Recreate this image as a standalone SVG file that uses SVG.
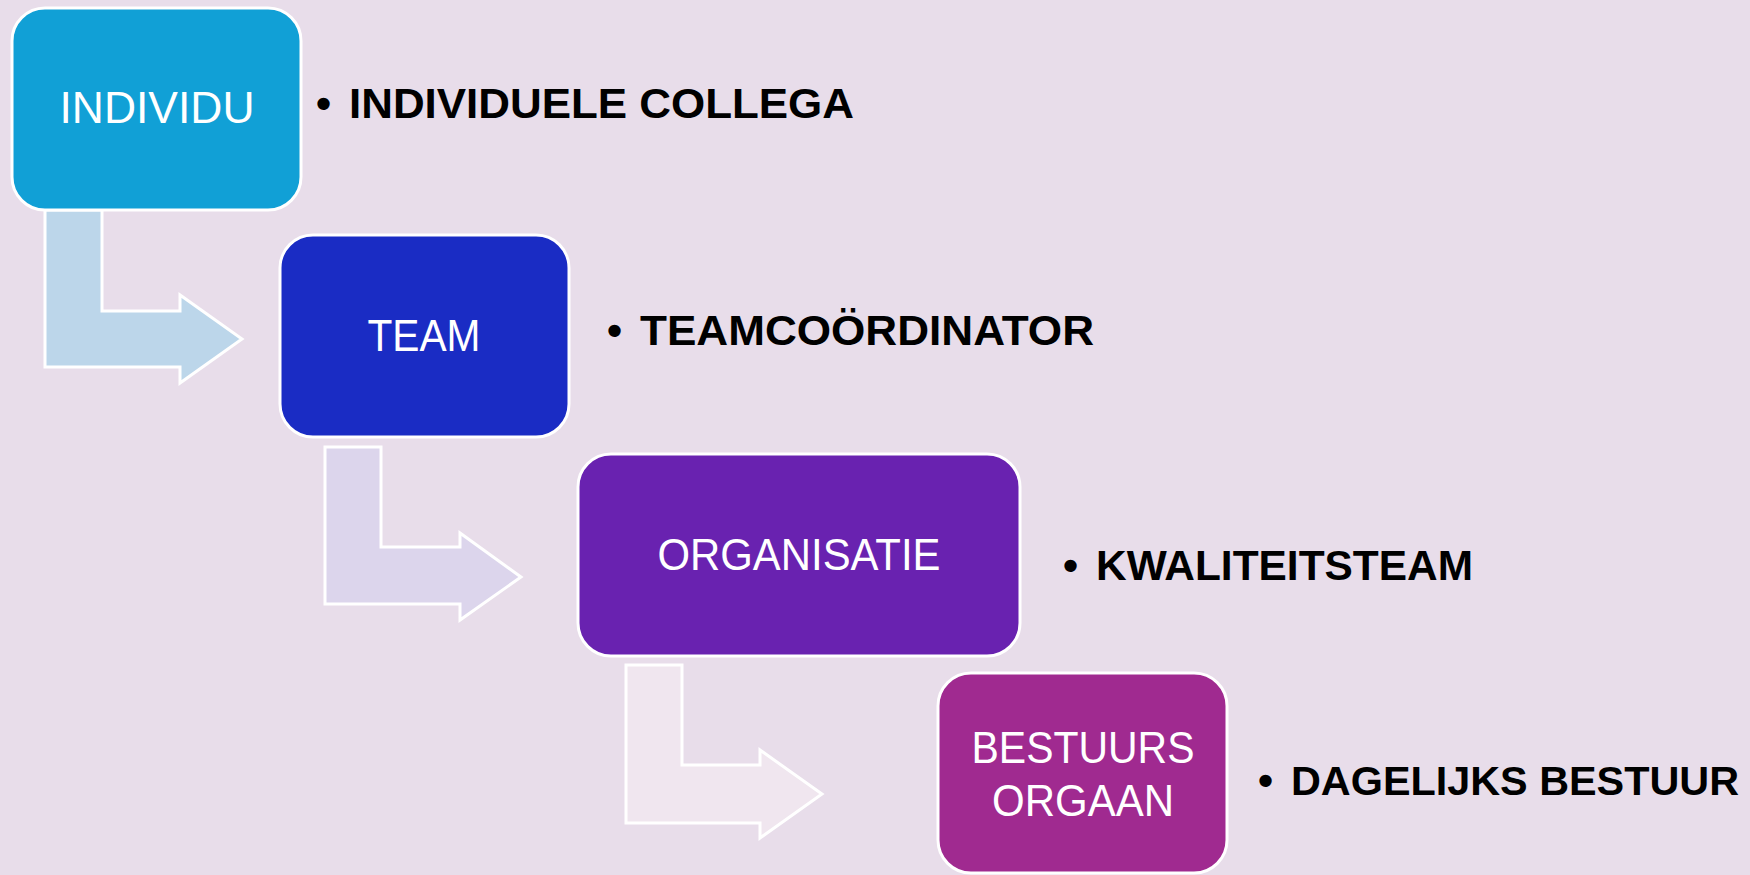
<svg xmlns="http://www.w3.org/2000/svg" width="1750" height="875" viewBox="0 0 1750 875">
<style>
.box{stroke:#ffffff;stroke-width:3}
.arr{stroke:#ffffff;stroke-width:3;stroke-linejoin:miter}
.bt{font-family:"Liberation Sans",Arial,sans-serif;font-size:44px;fill:#ffffff;text-anchor:middle}
.lb{font-family:"Liberation Sans",Arial,sans-serif;font-size:43px;font-weight:bold;fill:#000000}
</style>
<rect x="0" y="0" width="1750" height="875" fill="#E8DDEA"/>
<g id="connectors">
<path class="arr" fill="#BCD6EA" d="M45,210 L102,210 L102,311 L180,311 L180,295 L242,339 L180,383 L180,367 L45,367 Z"/>
<path class="arr" fill="#DCD5EC" d="M325,447 L381,447 L381,547 L460,547 L460,533 L521,577 L460,620 L460,604 L325,604 Z"/>
<path class="arr" fill="#F0E6EF" d="M626,665 L682,665 L682,765 L760,765 L760,750 L822,794 L760,838 L760,823 L626,823 Z"/>
</g>
<g id="node-individu">
<rect class="box" x="12" y="8" width="289" height="202" rx="33" ry="33" fill="#11A0D6"/>
<text class="bt" x="157" y="123" textLength="195" lengthAdjust="spacingAndGlyphs">INDIVIDU</text>
</g>
<g id="label-individu">
<text class="lb" x="316" y="118">•</text>
<text class="lb" x="349" y="118" textLength="505" lengthAdjust="spacingAndGlyphs">INDIVIDUELE COLLEGA</text>
</g>
<g id="node-team">
<rect class="box" x="280" y="235" width="289" height="202" rx="33" ry="33" fill="#1A2CC4"/>
<text class="bt" x="424" y="351" textLength="113" lengthAdjust="spacingAndGlyphs">TEAM</text>
</g>
<g id="label-team">
<text class="lb" x="607" y="345">•</text>
<text class="lb" x="640" y="345" textLength="454" lengthAdjust="spacingAndGlyphs">TEAMCOÖRDINATOR</text>
</g>
<g id="node-organisatie">
<rect class="box" x="578" y="454" width="442" height="202" rx="33" ry="33" fill="#6922B0"/>
<text class="bt" x="799" y="570" textLength="283" lengthAdjust="spacingAndGlyphs">ORGANISATIE</text>
</g>
<g id="label-organisatie">
<text class="lb" x="1063" y="580">•</text>
<text class="lb" x="1096" y="580" textLength="377" lengthAdjust="spacingAndGlyphs">KWALITEITSTEAM</text>
</g>
<g id="node-bestuursorgaan">
<rect class="box" x="938" y="673" width="289" height="200" rx="33" ry="33" fill="#A02A90"/>
<text class="bt" x="1083" y="763" textLength="223" lengthAdjust="spacingAndGlyphs">BESTUURS</text>
<text class="bt" x="1083" y="816" textLength="182" lengthAdjust="spacingAndGlyphs">ORGAAN</text>
</g>
<g id="label-bestuursorgaan">
<text class="lb" x="1258" y="795">•</text>
<text class="lb" x="1291" y="795" style="font-size:41px" textLength="448" lengthAdjust="spacingAndGlyphs">DAGELIJKS BESTUUR</text>
</g>
</svg>
